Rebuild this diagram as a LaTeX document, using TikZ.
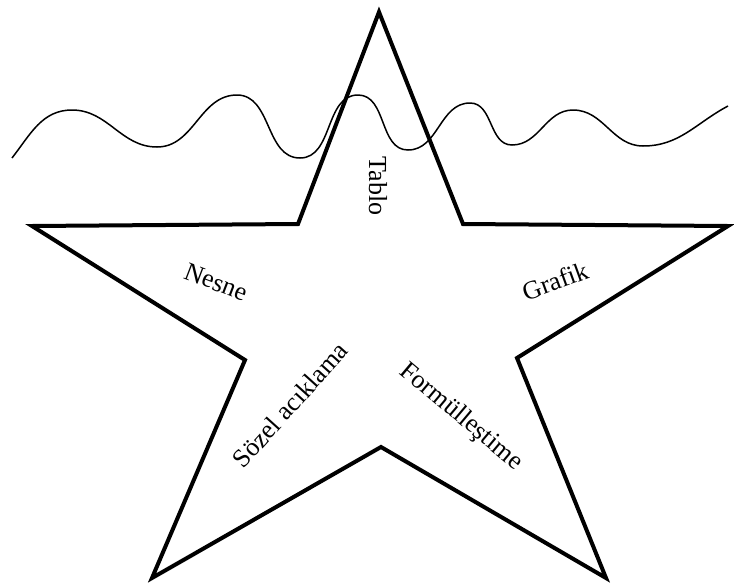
\documentclass[tikz,border=0pt]{standalone}
\usepackage{fontspec}
\setmainfont{Liberation Serif}
\begin{document}
\begin{tikzpicture}[x=1pt,y=1pt,
  starline/.style={line width=4pt,line join=miter},
  waveline/.style={line width=1.5pt},
  lbl/.style={font=\fontsize{26}{29}\selectfont,inner sep=0pt}]
\useasboundingbox (0,0) rectangle (734,-587);
\coordinate (t) at (379,-12);
\coordinate (ur) at (463,-224);
\coordinate (r) at (728,-226);
\coordinate (lr) at (517,-358);
\coordinate (br) at (606,-578);
\coordinate (b) at (381,-447);
\coordinate (bl) at (152,-578);
\coordinate (ll) at (245,-360);
\coordinate (l) at (32,-226);
\coordinate (ul) at (298,-224);
\draw[starline] (t) -- (ur) -- (r) -- (lr) -- (br) -- (b) -- (bl) -- (ll) -- (l) -- (ul) -- cycle;
\coordinate (w0) at (12,-158);
\coordinate (w1) at (72,-110);
\coordinate (w2) at (157,-147);
\coordinate (w3) at (237,-95);
\coordinate (w4) at (300,-158);
\coordinate (w5) at (358,-95);
\coordinate (w6) at (408,-150);
\coordinate (w7) at (470,-103);
\coordinate (w8) at (512,-145);
\coordinate (w9) at (573,-110);
\coordinate (w10) at (643,-146);
\coordinate (w11) at (728,-106);
\draw[waveline] (w0) to[out=52,in=180] (w1) to[out=0,in=180] (w2) to[out=0,in=180] (w3)
  to[out=0,in=180] (w4) to[out=0,in=180] (w5) to[out=0,in=180] (w6) to[out=0,in=180] (w7)
  to[out=0,in=180] (w8) to[out=0,in=180] (w9) to[out=0,in=180] (w10) to[out=0,in=208] (w11);
\node[lbl,rotate=-90] (tablo) at (378,-186) {Tablo};
\node[lbl,rotate=-21] (nesne) at (216,-282) {Nesne};
\node[lbl,rotate=20] (grafik) at (555,-281) {Grafik};
\node[lbl,rotate=48] (sozel) at (290,-405) {Sözel acıklama};
\node[lbl,rotate=-40] (formul) at (461,-417) {Formülleştime};
\end{tikzpicture}
\end{document}
